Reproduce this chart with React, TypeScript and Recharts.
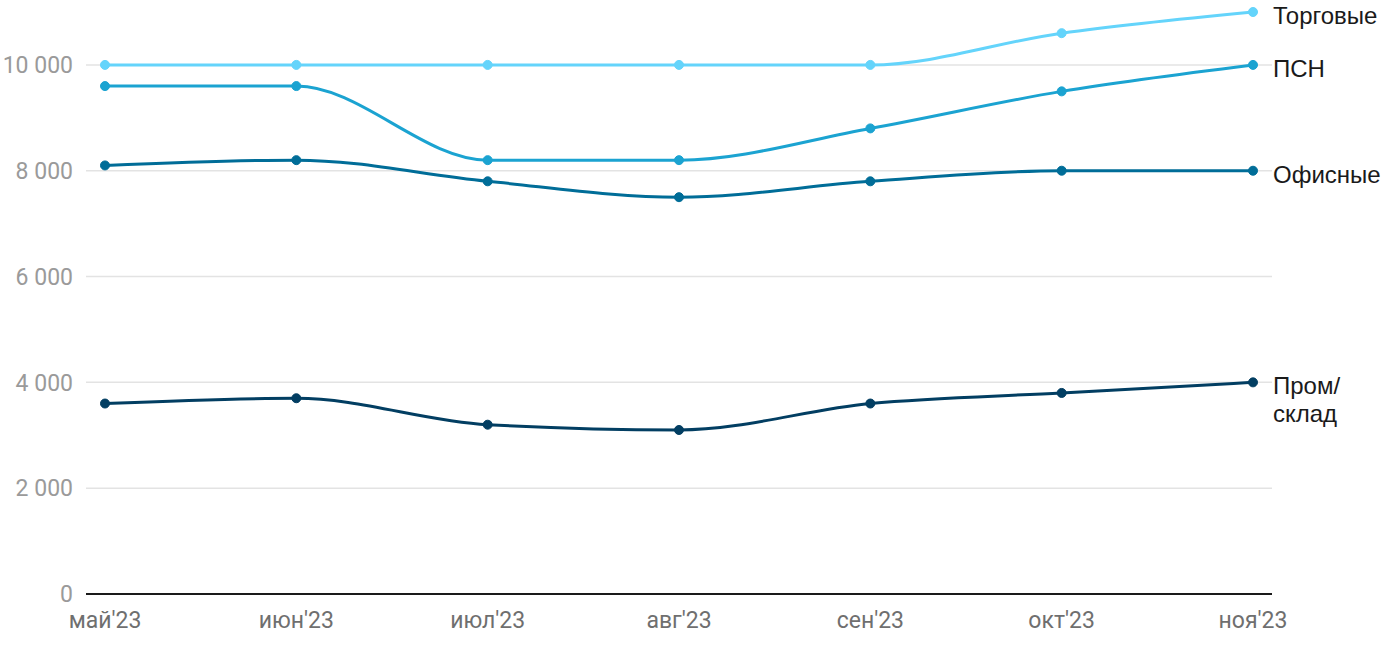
import { LineChart, Line, XAxis, YAxis, CartesianGrid, LabelList } from "recharts";

const months = ["май'23", "июн'23", "июл'23", "авг'23", "сен'23", "окт'23", "ноя'23"];
const trade = [10000, 10000, 10000, 10000, 10000, 10600, 11000];
const psn = [9600, 9600, 8200, 8200, 8800, 9500, 10000];
const office = [8100, 8200, 7800, 7500, 7800, 8000, 8000];
const warehouse = [3600, 3700, 3200, 3100, 3600, 3800, 4000];
const yTicks = [0, 2000, 4000, 6000, 8000, 10000];

const series = [
  { key: "trade", name: "Торговые", color: "#64d4fb", lines: ["Торговые"] },
  { key: "psn", name: "ПСН", color: "#1ba3d1", lines: ["ПСН"] },
  { key: "office", name: "Офисные", color: "#006d98", lines: ["Офисные"] },
  { key: "warehouse", name: "Пром/склад", color: "#023e62", lines: ["Пром/", "склад"] },
];

const data = months.map((m, i) => ({
  month: m,
  trade: trade[i],
  psn: psn[i],
  office: office[i],
  warehouse: warehouse[i],
}));

const fmt = (v: number) => v.toLocaleString("en-US").replace(/,/g, " ");

function endLabel(lines: string[]) {
  return (props: any) => {
    const { x, y, index } = props;
    if (index !== months.length - 1) return null;
    return (
      <text
        x={x + 20}
        y={y}
        fill="#1a1a1a"
        fontSize={24}
        fontFamily="'Liberation Sans', Arial, sans-serif"
      >
        {lines.map((l, i) => (
          <tspan key={i} x={x + 20} dy={i === 0 ? "0.5em" : "1.15em"}>
            {l}
          </tspan>
        ))}
      </text>
    );
  };
}

export default function App() {
  return (
    <div style={{ position: "absolute", left: 0, top: 0, background: "#fff" }}>
      <LineChart
        width={1400}
        height={650}
        data={data}
        margin={{ top: 12, right: 128, left: 0, bottom: 26 }}
      >
        <CartesianGrid
          stroke="#e3e3e3"
          strokeWidth={1.5}
          vertical={false}
          horizontalValues={yTicks}
        />
        <XAxis
          dataKey="month"
          padding={{ left: 19, right: 19 }}
          axisLine={{ stroke: "#1a1a1a", strokeWidth: 2 }}
          tickLine={false}
          tickMargin={12}
          height={30}
          tick={{ fill: "#6f6f6f", fontSize: 23, fontFamily: "Roboto" }}
          interval={0}
        />
        <YAxis
          width={86}
          domain={[0, 11000]}
          ticks={yTicks}
          axisLine={false}
          tickLine={false}
          tickMargin={7}
          tickFormatter={fmt}
          tick={{ fill: "#9a9a9a", fontSize: 23, fontFamily: "Roboto" }}
        />
        {series.map((s) => (
          <Line
            key={s.key}
            type="monotone"
            dataKey={s.key}
            name={s.name}
            stroke={s.color}
            strokeWidth={3}
            dot={{ r: 4.5, fill: s.color, stroke: s.color, strokeWidth: 1 }}
            activeDot={false}
            isAnimationActive={false}
          >
            <LabelList dataKey={s.key} content={endLabel(s.lines)} />
          </Line>
        ))}
      </LineChart>
    </div>
  );
}
